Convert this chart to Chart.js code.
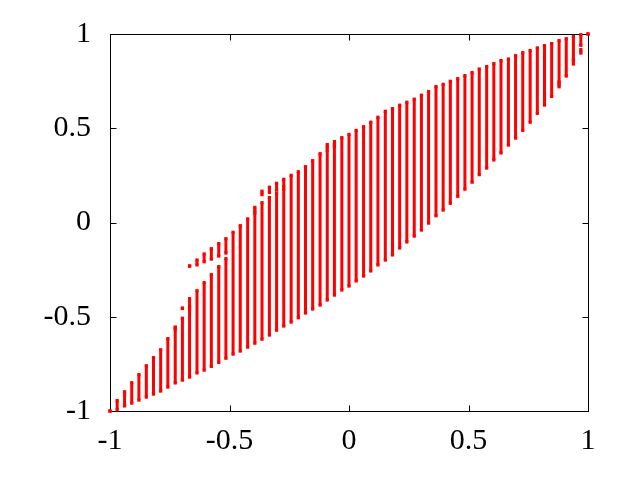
<!DOCTYPE html>
<html>
<head>
<meta charset="utf-8">
<script src="https://cdn.jsdelivr.net/npm/chart.js@4/dist/chart.umd.min.js"></script>
<style>
  html, body { margin: 0; padding: 0; background: #fff; }
  canvas { display: block; }
</style>
</head>
<body>
<canvas id="chart" width="640" height="480"></canvas>
<script>
// column positions (x) and the main span of each column
const colX = [
  -1, -0.970, -0.939, -0.909, -0.879, -0.848, -0.818, -0.788, -0.758, -0.727,
  -0.697, -0.667, -0.636, -0.606, -0.576, -0.545, -0.515, -0.485, -0.455, -0.424,
  -0.394, -0.364, -0.333, -0.303, -0.273, -0.242, -0.212, -0.182, -0.152, -0.121,
  -0.091, -0.061, -0.030, 0, 0.030, 0.061, 0.091, 0.121, 0.152, 0.182,
  0.212, 0.242, 0.273, 0.303, 0.333, 0.364, 0.394, 0.424, 0.455, 0.485,
  0.515, 0.545, 0.576, 0.606, 0.636, 0.667, 0.697, 0.727, 0.758, 0.788,
  0.818, 0.848, 0.879, 0.909, 0.939, 0.970, 1
];
const colLow = [
  -1, -0.994, -0.973, -0.958, -0.942, -0.926, -0.910, -0.894, -0.873, -0.851,
  -0.836, -0.820, -0.798, -0.783, -0.763, -0.742, -0.720, -0.698, -0.682, -0.661,
  -0.640, -0.619, -0.597, -0.571, -0.549, -0.528, -0.505, -0.480, -0.459, -0.438,
  -0.411, -0.385, -0.358, -0.337, -0.310, -0.284, -0.257, -0.225, -0.199, -0.172,
  -0.135, -0.103, -0.072, -0.040, -0.003, 0.036, 0.066, 0.102, 0.139, 0.177,
  0.214, 0.254, 0.289, 0.332, 0.369, 0.411, 0.448, 0.489, 0.532, 0.579,
  0.623, 0.669, 0.745, 0.777, 0.867, 0.940, 1
];
const colHigh = [
  -1, -0.945, -0.898, -0.850, -0.807, -0.760, -0.717, -0.675, -0.616, -0.568,
  -0.508, -0.460, -0.362, -0.319, -0.277, -0.234, -0.192, -0.052, -0.017, 0.019,
  0.050, 0.105, 0.132, 0.155, 0.178, 0.250, 0.269, 0.296, 0.328, 0.365,
  0.381, 0.402, 0.450, 0.467, 0.488, 0.508, 0.532, 0.558, 0.590, 0.604,
  0.622, 0.638, 0.654, 0.675, 0.694, 0.721, 0.733, 0.749, 0.763, 0.779,
  0.795, 0.814, 0.827, 0.843, 0.859, 0.867, 0.885, 0.901, 0.912, 0.926,
  0.938, 0.949, 0.965, 0.975, 0.986, 0.996, 1
];

// detached pieces: column index, low, high
const extraCol  = [9, 10, 11, 11, 12, 13, 14, 15, 16, 20, 21, 22, 23, 24, 30, 31, 62, 64, 65];
const extraLow  = [-0.556, -0.455, -0.231, -0.446, -0.225, -0.208, -0.194, -0.178, -0.162,
                   0.060, 0.148, 0.160, 0.172, 0.190, 0.395, 0.411, 0.720, 0.841, 0.899];
const extraHigh = [-0.556, -0.455, -0.231, -0.404, -0.199, -0.167, -0.139, -0.112, -0.086,
                   0.080, 0.166, 0.187, 0.208, 0.229, 0.413, 0.429, 0.738, 0.859, 0.917];

const axisTicks = [-1, -0.5, 0, 0.5, 1];
const xTickLabels = ['-1', '-0.5', '0', '0.5', '1'];
const yTickLabels = ['-1', '-0.5', '0', '0.5', '1'];

// build segments separated by gaps
const pts = [];
colX.forEach((x, i) => {
  pts.push({ x: x, y: colLow[i] }, { x: x, y: colHigh[i] }, { x: x, y: null });
});
extraCol.forEach((c, i) => {
  pts.push({ x: colX[c], y: extraLow[i] }, { x: colX[c], y: extraHigh[i] }, { x: colX[c], y: null });
});

const labelFont = { family: '"Liberation Serif", "Times New Roman", serif', size: 30 };

// gnuplot-like frame with inward ticks
const frame = {
  id: 'frame',
  beforeDatasetsDraw(chart) {
    const { ctx, chartArea: a, scales } = chart;
    ctx.save();
    ctx.strokeStyle = '#000';
    ctx.lineWidth = 1;
    const l = Math.round(a.left) + 0.5, r = Math.round(a.right) + 0.5;
    const t = Math.round(a.top) + 0.5, b = Math.round(a.bottom) + 0.5;
    ctx.strokeRect(l, t, r - l, b - t);
    const len = 6;
    ctx.beginPath();
    axisTicks.forEach(v => {
      const px = Math.round(scales.x.getPixelForValue(v)) + 0.5;
      ctx.moveTo(px, b); ctx.lineTo(px, b - len);
      ctx.moveTo(px, t); ctx.lineTo(px, t + len);
      const py = Math.round(scales.y.getPixelForValue(v)) + 0.5;
      ctx.moveTo(l, py); ctx.lineTo(l + len, py);
      ctx.moveTo(r, py); ctx.lineTo(r - len, py);
    });
    ctx.stroke();
    ctx.restore();
  }
};

new Chart(document.getElementById('chart'), {
  type: 'scatter',
  data: {
    datasets: [{
      data: pts,
      showLine: true,
      spanGaps: false,
      borderColor: '#ff0000',
      backgroundColor: '#ff0000',
      borderWidth: 3,
      borderCapStyle: 'butt',
      pointStyle: 'rect',
      pointRadius: 2.3,
      pointBorderWidth: 0,
      pointHoverRadius: 0,
      clip: false
    }]
  },
  options: {
    responsive: false,
    animation: false,
    layout: { padding: { left: 0, top: 34, right: 52, bottom: 0 } },
    plugins: { legend: { display: false }, tooltip: { enabled: false } },
    scales: {
      x: {
        type: 'linear',
        min: -1, max: 1,
        afterBuildTicks: s => { s.ticks = axisTicks.map(v => ({ value: v })); },
        afterFit: s => { s.height = 480 - 411; s.paddingLeft = 0; s.paddingRight = 0; s.paddingTop = 0; s.paddingBottom = 0; },
        grid: { display: false, drawTicks: false },
        border: { display: false },
        ticks: {
          color: '#000', font: labelFont, padding: 12, maxRotation: 0,
          callback: (v, i) => xTickLabels[i]
        }
      },
      y: {
        type: 'linear',
        min: -1, max: 1,
        afterBuildTicks: s => { s.ticks = axisTicks.map(v => ({ value: v })); },
        afterFit: s => { s.width = 110; s.paddingTop = 0; s.paddingBottom = 0; s.paddingLeft = 0; s.paddingRight = 0; },
        grid: { display: false, drawTicks: false },
        border: { display: false },
        ticks: {
          color: '#000', font: labelFont, padding: 19,
          callback: (v, i) => yTickLabels[i]
        }
      }
    }
  },
  plugins: [frame]
});
</script>
</body>
</html>
